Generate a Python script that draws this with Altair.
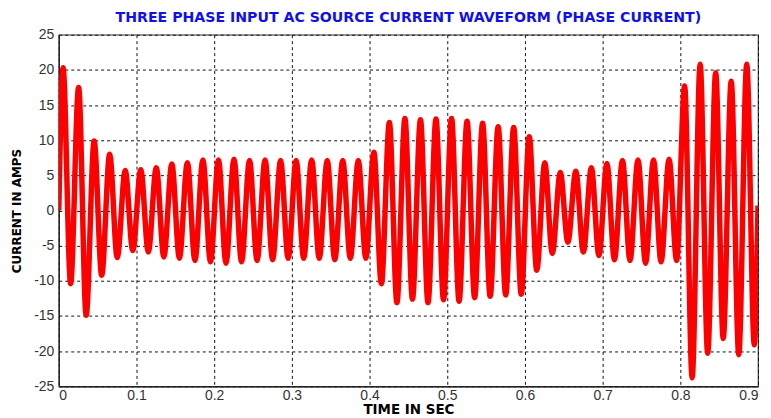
import altair as alt
import pandas as pd

# Local maxima / minima of the phase current, one pair per 50 Hz cycle
peaks = [20.3, 17.5, 9.9, 8.0, 5.7, 5.8, 6.1, 6.6, 6.8, 7.2,
         7.2, 7.3, 7.1, 7.2, 7.1, 7.1, 7.2, 7.1, 7.1, 7.1,
         8.3, 12.5, 13.1, 12.9, 13.0, 13.1, 12.7, 12.4, 11.9, 11.8,
         10.5, 6.8, 5.4, 5.6, 6.1, 6.7, 7.1, 7.2, 7.2, 7.3,
         17.7, 20.8, 19.6, 18.4, 20.8]
troughs = [-10.4, -14.9, -9.2, -6.7, -5.7, -5.9, -6.6, -6.8, -7.1, -7.3,
           -7.5, -7.3, -7.1, -7.0, -6.8, -6.8, -6.8, -7.0, -6.8, -6.8,
           -10.4, -13.1, -12.6, -13.1, -12.7, -12.9, -12.4, -12.2, -12.0, -11.9,
           -8.5, -6.1, -4.5, -5.9, -6.4, -7.0, -7.1, -7.5, -7.3, -7.1,
           -23.8, -20.3, -18.2, -20.5, -19.1]
start_value = 0.0
end_value = 0.7
period = 0.02          # s (50 Hz)
peak_phase = 0.0055    # s, time of first maximum
trough_phase = 0.0152  # s, time of first minimum

x_ticks = [0, 0.1, 0.2, 0.3, 0.4, 0.5, 0.6, 0.7, 0.8, 0.9]
y_ticks = [-25, -20, -15, -10, -5, 0, 5, 10, 15, 20, 25]

t, v = [0.0], [start_value]
for k in range(len(peaks)):
    t.append(peak_phase + k * period); v.append(peaks[k])
    t.append(trough_phase + k * period); v.append(troughs[k])
t.append(0.9); v.append(end_value)
df = pd.DataFrame({"t": t, "i": v})

line = alt.Chart(df).mark_line(
    color="#ff0000", strokeWidth=5.5, interpolate="monotone", clip=True
).encode(
    x=alt.X("t:Q", scale=alt.Scale(domain=[0, 0.9], nice=False, zero=False),
            axis=alt.Axis(values=x_ticks, labelExpr="''+datum.value",
                          title="TIME IN SEC", grid=True, ticks=False,
                          titleFontSize=13.5)),
    y=alt.Y("i:Q", scale=alt.Scale(domain=[-25, 25], nice=False),
            axis=alt.Axis(values=y_ticks, labelExpr="''+datum.value",
                          title="CURRENT IN AMPS", grid=True, ticks=False,
                          titleFontSize=12)),
)

chart = line.properties(
    width=702, height=353,
    autosize=alt.AutoSizeParams(type="none"),
    padding={"left": 51, "top": 26, "right": 5, "bottom": 31},
    background="white",
    title=alt.TitleParams(
        "THREE PHASE INPUT AC SOURCE CURRENT WAVEFORM (PHASE CURRENT)",
        font="DejaVu Sans", fontSize=14.2, fontWeight="bold",
        color="#1010ee", anchor="middle", offset=3),
).configure_view(
    stroke="#333333", strokeWidth=1.2
).configure_axis(
    labelFont="Liberation Sans", labelFontSize=14, labelColor="#333333",
    titleFont="DejaVu Sans", titleFontWeight="bold",
    titleColor="#000000",
    gridColor="#111111", gridDash=[3, 3], gridOpacity=1, gridWidth=1,
    domainColor="#222222", domainWidth=1.2, zindex=1,
).configure_axisX(
    labelPadding=2, titlePadding=0
).configure_axisY(
    labelPadding=5, titlePadding=10
)

chart.save("out.html", embed_options={"renderer": "svg", "actions": False})
